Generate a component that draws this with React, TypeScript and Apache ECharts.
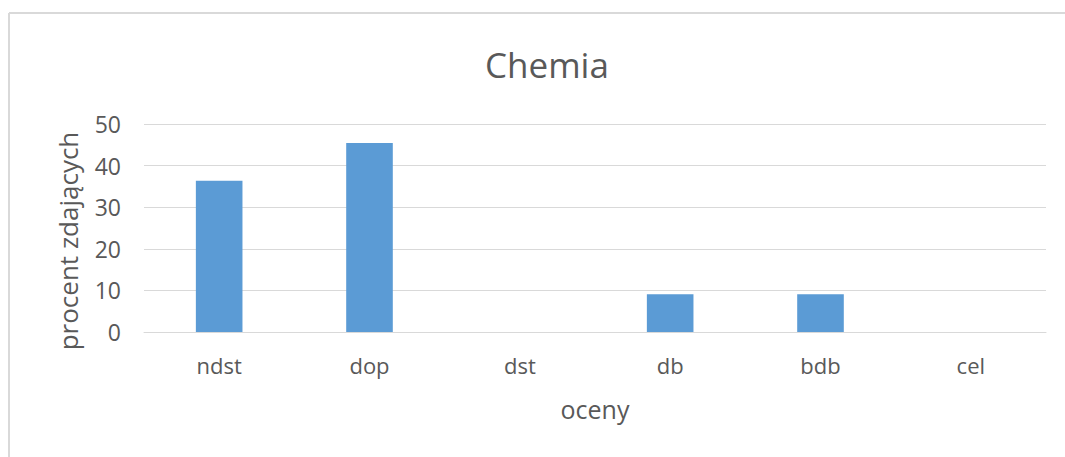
import React, { useEffect, useRef } from "react";
import * as echarts from "echarts";

const categories: string[] = ["ndst", "dop", "dst", "db", "bdb", "cel"];
const percentValues: number[] = [36.36, 45.45, 0, 9.09, 9.09, 0];
const chartTitle = "Chemia";
const xAxisTitle = "oceny";
const yAxisTitle = "procent zdających";

const FONT = "'Open Sans', 'Noto Sans', sans-serif";
const TEXT = "#595959";

export default function App() {
  const ref = useRef<HTMLDivElement>(null);
  useEffect(() => {
    if (!ref.current) return;
    const chart = echarts.init(ref.current, undefined, { renderer: "svg" });
    chart.setOption({
      animation: false,
      backgroundColor: "#ffffff",
      title: {
        text: chartTitle,
        left: 480,
        top: 42,
        textStyle: { fontFamily: FONT, fontSize: 35, fontWeight: "normal", color: TEXT },
      },
      graphic: [
        { type: "line", shape: { x1: 9, y1: 13, x2: 1065, y2: 13 }, style: { stroke: "#d9d9d9", lineWidth: 2 } },
        { type: "line", shape: { x1: 9, y1: 13, x2: 9, y2: 457 }, style: { stroke: "#d9d9d9", lineWidth: 2 } },
        {
          type: "text",
          x: 68,
          y: 241,
          rotation: Math.PI / 2,
          style: {
            text: yAxisTitle,
            fontFamily: FONT,
            fontSize: 26,
            fill: TEXT,
            align: "center",
            verticalAlign: "middle",
          },
        },
      ],
      grid: { left: 144, right: 19, top: 124, bottom: 125 },
      xAxis: {
        type: "category",
        data: categories,
        name: xAxisTitle,
        nameLocation: "middle",
        nameGap: 64,
        nameTextStyle: { fontFamily: FONT, fontSize: 25, color: TEXT },
        axisLine: { show: true, lineStyle: { color: "#d9d9d9", width: 1 } },
        axisTick: { show: false },
        axisLabel: { fontFamily: FONT, fontSize: 22, color: TEXT, margin: 22 },
      },
      yAxis: {
        type: "value",
        min: 0,
        max: 50,
        interval: 10,
        axisLine: { show: false },
        axisTick: { show: false },
        axisLabel: { fontFamily: FONT, fontSize: 23, color: TEXT, margin: 23 },
        splitLine: { lineStyle: { color: "#d9d9d9", width: 1 } },
      },
      series: [
        {
          type: "bar",
          data: percentValues,
          barWidth: "31%",
          itemStyle: { color: "#5b9bd5" },
        },
      ],
    });
    return () => chart.dispose();
  }, []);
  return (
    <div
      ref={ref}
      style={{ position: "fixed", left: 0, top: 0, width: 1065, height: 457 }}
    />
  );
}
